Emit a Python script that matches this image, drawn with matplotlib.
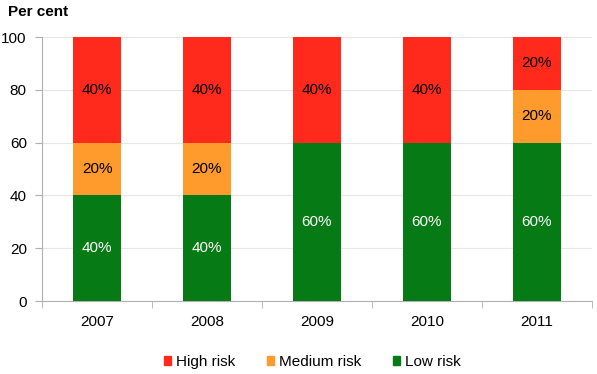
import matplotlib.pyplot as plt
import numpy as np

years = ["2007", "2008", "2009", "2010", "2011"]
low = [40, 40, 60, 60, 60]
medium = [20, 20, 0, 0, 20]
high = [40, 40, 40, 40, 20]

c_high = "#ff2a1c"
c_med = "#ff9a2c"
c_low = "#067a14"

plt.rcParams["font.family"] = ["Liberation Sans", "DejaVu Sans"]

fig = plt.figure(figsize=(5.97, 3.74), dpi=100)
ax = fig.add_axes([0.0704, 0.195, 0.921, 0.706])

x = np.arange(len(years))
w = 0.44
ax.bar(x, low, w, color=c_low, zorder=3)
ax.bar(x, medium, w, bottom=low, color=c_med, zorder=3)
bot2 = [a + b for a, b in zip(low, medium)]
ax.bar(x, high, w, bottom=bot2, color=c_high, zorder=3)

fs = 11
for i in range(len(years)):
    if low[i]:
        ax.text(x[i], low[i] / 2, f"{low[i]}%", ha="center", va="center",
                color="white", fontsize=fs, zorder=4)
    if medium[i]:
        ax.text(x[i], low[i] + medium[i] / 2, f"{medium[i]}%", ha="center",
                va="center", color="black", fontsize=fs, zorder=4)
    if high[i]:
        ax.text(x[i], bot2[i] + high[i] / 2, f"{high[i]}%", ha="center",
                va="center", color="black", fontsize=fs, zorder=4)

ax.set_xlim(-0.5, len(years) - 0.5)
ax.set_ylim(0, 100)
ax.set_yticks(range(0, 101, 20))
ax.set_xticks(x)
ax.set_xticklabels(years)
ax.set_xticks(np.arange(-0.5, len(years), 1), minor=True)
ax.tick_params(axis="x", which="major", length=0, pad=10, labelsize=fs)
ax.tick_params(axis="x", which="minor", length=5, color="#b0b0b0")
ax.tick_params(axis="y", length=5, color="#b0b0b0", labelsize=fs, pad=6)
ax.yaxis.grid(True, color="#e6e6e6", linewidth=0.8, zorder=0)
for s in ["top", "right"]:
    ax.spines[s].set_visible(False)
ax.spines["left"].set_color("#b0b0b0")
ax.spines["bottom"].set_color("#b0b0b0")

fig.text(0.0134, 0.968, "Per cent", fontsize=fs, fontweight="bold",
         ha="left", va="center")

handles = [plt.Rectangle((0, 0), 1, 1, color=c) for c in (c_high, c_med, c_low)]
fig.legend(handles, ["High risk", "Medium risk", "Low risk"], loc="center",
           bbox_to_anchor=(0.523, 0.032), ncol=3, frameon=False, fontsize=fs,
           handlelength=0.45, handleheight=0.45, handletextpad=0.33,
           columnspacing=2.1)

fig.savefig("out.png", dpi=100)
